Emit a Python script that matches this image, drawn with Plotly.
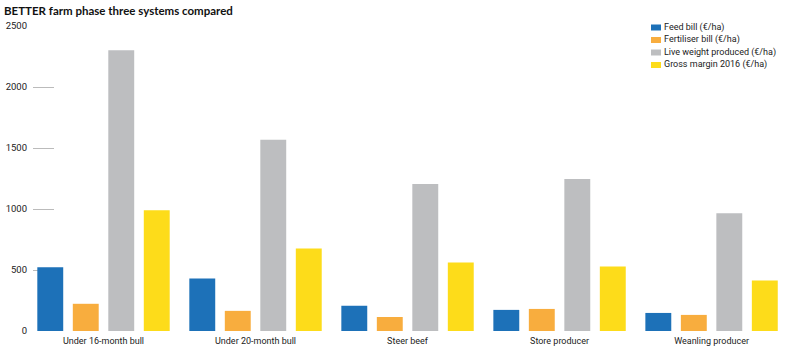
import plotly.graph_objects as go

categories = ["Under 16-month bull", "Under 20-month bull", "Steer beef", "Store producer", "Weanling producer"]
feed_bill = [522, 430, 207, 173, 148]
fertiliser_bill = [223, 165, 115, 181, 132]
live_weight = [2302, 1568, 1205, 1246, 965]
gross_margin = [990, 677, 561, 528, 413]
series_names = ["Feed bill (€/ha)", "Fertiliser bill (€/ha)", "Live weight produced (€/ha)", "Gross margin 2016 (€/ha)"]
colors = ["#1d71b8", "#f8ad3e", "#bdbec0", "#fddc1a"]
y_ticks = [0, 500, 1000, 1500, 2000, 2500]
title_text = "BETTER farm phase three systems compared"

font_family = "Roboto, Open Sans, sans-serif"

W, H = 790, 361
ML, MT, MB = 33, 26, 30
PW, PH = W - ML, H - MT - MB

fig = go.Figure()
for name, vals, col in zip(series_names, [feed_bill, fertiliser_bill, live_weight, gross_margin], colors):
    fig.add_trace(go.Bar(x=categories, y=vals, name=name, marker=dict(color=col, line=dict(width=0)),
                         showlegend=False))

def px_x(x):
    return (x - ML) / PW

def px_y(y):
    return (H - MB - y) / PH

# custom compact legend
legend_x_px = 651
legend_rows_px = [27.5, 40, 52.5, 65]
for name, col, ypx in zip(series_names, colors, legend_rows_px):
    fig.add_shape(type="rect", xref="paper", yref="paper",
                  x0=px_x(legend_x_px), x1=px_x(legend_x_px + 10),
                  y0=px_y(ypx + 3), y1=px_y(ypx - 3),
                  fillcolor=col, line=dict(width=0))
    fig.add_annotation(text=name, xref="paper", yref="paper",
                       x=px_x(legend_x_px + 11), y=px_y(ypx),
                       xanchor="left", yanchor="middle", showarrow=False,
                       font=dict(family=font_family, size=9, color="#222222"))

fig.add_annotation(text="<b>" + title_text + "</b>",
                   xref="paper", yref="paper", x=px_x(2), y=px_y(11),
                   xanchor="left", yanchor="middle", showarrow=False,
                   font=dict(family="Lato, sans-serif", size=11.5, color="#111111"))

fig.update_layout(
    width=W, height=H,
    margin=dict(l=ML, r=0, t=MT, b=MB, autoexpand=False),
    paper_bgcolor="white", plot_bgcolor="white",
    barmode="group", bargap=0.066, bargroupgap=0.27,
    font=dict(family=font_family, size=9.5, color="#222222"),
    showlegend=False,
)
fig.update_xaxes(range=[-0.4638, 4.516], showgrid=False, showline=False, ticks="",
                 tickfont=dict(size=9, color="#222222"), zeroline=False, automargin=False,
                 ticklabelstandoff=3)
fig.update_yaxes(range=[0, 2500], tickvals=y_ticks, showgrid=False, zeroline=False, showline=False,
                 ticks="inside", ticklen=21, tickcolor="#bbbbbb", tickwidth=1, automargin=False,
                 layer="below traces", tickfont=dict(size=9.5, color="#222222"), ticklabelstandoff=5)

fig.write_html("out.html", config={"displayModeBar": False},
               post_script="document.body.style.margin='0';document.body.style.overflow='hidden';")
